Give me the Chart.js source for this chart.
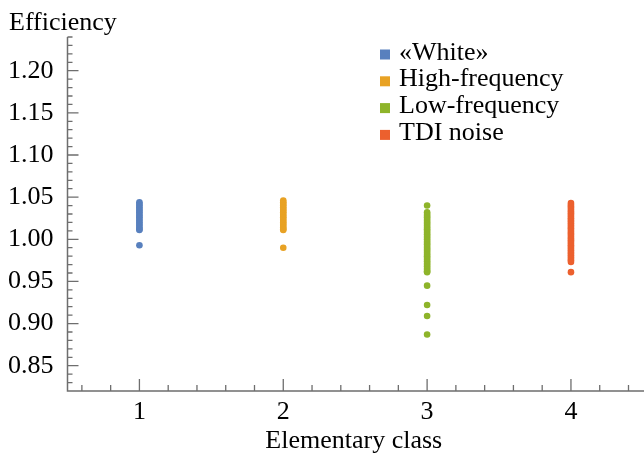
<!DOCTYPE html>
<html>
<head>
<meta charset="utf-8">
<script src="https://cdn.jsdelivr.net/npm/chart.js@4"></script>
<style>
  html, body { margin: 0; padding: 0; background: #fff; }
  #wrap { width: 644px; height: 457px; }
</style>
</head>
<body>
<div id="wrap"><canvas id="effChart" width="644" height="457"></canvas></div>
<script>
// categories (elementary class) and series names
const classes = [1, 2, 3, 4];
const seriesNames = ["«White»", "High-frequency", "Low-frequency", "TDI noise"];
const seriesColors = ["rgb(88,128,190)", "rgb(232,162,36)", "rgb(142,180,42)", "rgb(236,96,46)"];

// efficiency values, one list per class
const whiteVals = [1.044, 1.042, 1.040, 1.038, 1.036, 1.034, 1.032, 1.030, 1.028, 1.026,
  1.024, 1.022, 1.020, 1.018, 1.016, 1.014, 1.012, 1.011, 0.993];
const highVals = [1.046, 1.044, 1.042, 1.040, 1.038, 1.036, 1.034, 1.032, 1.030, 1.028,
  1.026, 1.024, 1.022, 1.020, 1.018, 1.016, 1.014, 1.012, 1.011, 0.990];
const lowVals = [1.040, 1.032, 1.030, 1.028, 1.026, 1.024, 1.022, 1.020, 1.018, 1.016,
  1.014, 1.012, 1.010, 1.008, 1.006, 1.004, 1.002, 1.000, 0.998, 0.996, 0.994, 0.992,
  0.990, 0.988, 0.986, 0.984, 0.982, 0.980, 0.978, 0.976, 0.974, 0.972, 0.970, 0.968,
  0.966, 0.964, 0.962, 0.961, 0.945, 0.922, 0.909, 0.887];
const tdiVals = [1.043, 1.041, 1.039, 1.037, 1.035, 1.033, 1.031, 1.029, 1.027, 1.025,
  1.023, 1.021, 1.019, 1.017, 1.015, 1.013, 1.011, 1.009, 1.007, 1.005, 1.003, 1.001,
  0.999, 0.997, 0.995, 0.993, 0.991, 0.989, 0.987, 0.985, 0.983, 0.981, 0.979, 0.977,
  0.975, 0.973, 0.961];

// tick labels
const yTicks = [0.85, 0.90, 0.95, 1.00, 1.05, 1.10, 1.15, 1.20];
const xTicks = [1, 2, 3, 4];

const allVals = [whiteVals, highVals, lowVals, tdiVals];
const FONT = "'Liberation Serif', 'Times New Roman', serif";
const FSIZE = 26;

const datasets = allVals.map(function (vals, i) {
  return {
    label: seriesNames[i],
    data: vals.map(function (v) { return { x: classes[i], y: v }; }),
    backgroundColor: seriesColors[i],
    borderWidth: 0,
    pointRadius: 3.3
  };
});

// axis lines, inward ticks, y title and legend
const axesPlugin = {
  id: 'axesDeco',
  afterDraw(chart) {
    const ctx = chart.ctx;
    const area = chart.chartArea;
    const xs = chart.scales.x, ys = chart.scales.y;
    ctx.save();
    ctx.strokeStyle = '#6e6e6e';
    ctx.lineWidth = 1.5;
    ctx.beginPath();
    ctx.moveTo(area.left, area.top);
    ctx.lineTo(area.left, area.bottom);
    ctx.lineTo(chart.width, area.bottom);
    ctx.stroke();

    ctx.lineWidth = 1.3;
    ctx.beginPath();
    for (let k = 83; k <= 124; k++) {
      const y = ys.getPixelForValue(k / 100);
      const len = (k % 5 === 0) ? 11 : 5;
      ctx.moveTo(area.left, y);
      ctx.lineTo(area.left + len, y);
    }
    for (let k = 3; k <= 22; k++) {
      const x = xs.getPixelForValue(k / 5);
      const len = (k % 5 === 0) ? 12 : 6;
      ctx.moveTo(x, area.bottom);
      ctx.lineTo(x, area.bottom - len);
    }
    ctx.stroke();

    ctx.fillStyle = '#000';
    ctx.font = FSIZE + 'px ' + FONT;
    ctx.textBaseline = 'alphabetic';
    ctx.textAlign = 'left';
    ctx.fillText('Efficiency', 9, 30);

    chart.data.datasets.forEach(function (ds, i) {
      const base = 59.5 + i * 26.8;
      ctx.fillStyle = ds.backgroundColor;
      ctx.fillRect(380, base - 10, 10, 10);
      ctx.fillStyle = '#000';
      ctx.fillText(ds.label, 399, base);
    });
    ctx.restore();
  }
};

new Chart(document.getElementById('effChart'), {
  type: 'scatter',
  data: { datasets: datasets },
  options: {
    responsive: false,
    animation: false,
    layout: { padding: { left: 2, top: 37, right: 0, bottom: 0 } },
    plugins: { legend: { display: false }, tooltip: { enabled: false } },
    scales: {
      x: {
        type: 'linear',
        min: 0.5,
        max: 4.48,
        grid: { display: false, drawTicks: false },
        border: { display: false },
        afterBuildTicks: function (s) { s.ticks = xTicks.map(function (v) { return { value: v }; }); },
        afterFit: function (s) { s.height = 66; },
        ticks: {
          color: '#000',
          padding: 8,
          autoSkip: false,
          maxRotation: 0,
          font: { family: FONT, size: FSIZE, lineHeight: 1 },
          callback: function (v) { return String(v); }
        },
        title: {
          display: true,
          text: 'Elementary class',
          color: '#000',
          font: { family: FONT, size: FSIZE, lineHeight: 1 },
          padding: { top: 3, bottom: 3 }
        }
      },
      y: {
        type: 'linear',
        min: 0.82,
        max: 1.24,
        grid: { display: false, drawTicks: false },
        border: { display: false },
        afterBuildTicks: function (s) { s.ticks = yTicks.map(function (v) { return { value: v }; }); },
        afterFit: function (s) { s.width = 65.5; },
        ticks: {
          color: '#000',
          padding: 14,
          autoSkip: false,
          font: { family: FONT, size: FSIZE, lineHeight: 1 },
          callback: function (v) { return Number(v).toFixed(2); }
        }
      }
    }
  },
  plugins: [axesPlugin]
});
</script>
</body>
</html>
